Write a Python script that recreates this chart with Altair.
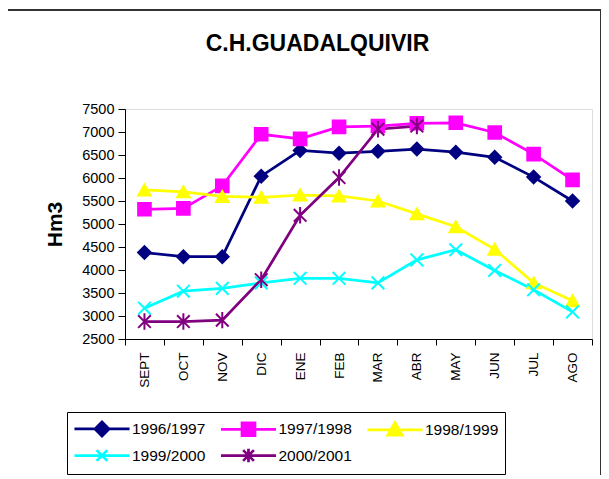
import altair as alt
import pandas as pd

months = ["SEPT", "OCT", "NOV", "DIC", "ENE", "FEB", "MAR", "ABR", "MAY", "JUN", "JUL", "AGO"]
series = ["1996/1997", "1997/1998", "1998/1999", "1999/2000", "2000/2001"]
v_9697 = [4380, 4290, 4290, 6040, 6600, 6540, 6580, 6630, 6560, 6450, 6020, 5500]
v_9798 = [5320, 5340, 5830, 6950, 6850, 7110, 7130, 7190, 7200, 6990, 6520, 5960]
v_9899 = [5740, 5700, 5600, 5580, 5630, 5610, 5500, 5220, 4940, 4450, 3720, 3330]
v_9900 = [3170, 3540, 3600, 3720, 3820, 3820, 3720, 4220, 4440, 3990, 3570, 3090]
v_0001 = [2880, 2880, 2910, 3790, 5190, 6010, 7060, 7130, None, None, None, None]
colors = ["#000080", "#FF00FF", "#FFFF00", "#00FFFF", "#800080"]
y_ticks = [2500, 3000, 3500, 4000, 4500, 5000, 5500, 6000, 6500, 7000, 7500]

plot_shapes = [
    "diamond",
    "square",
    "triangle-up",
    "M-1,-1L1,1M-1,1L1,-1",
    "M-1,-1L1,1M-1,1L1,-1M0,-1.3L0,1.3",
]
legend_shapes = [
    "M-3.06,0L3.06,0M-0.78,0L0,-0.78L0.78,0L0,0.78Z",
    "M-3.06,0L3.06,0M-0.72,-0.72L0.72,-0.72L0.72,0.72L-0.72,0.72Z",
    "M-3.06,0L3.06,0M0,-0.8L0.8,0.6L-0.8,0.6Z",
    "M-3.06,0L3.06,0M-0.6,-0.6L0.6,0.6M-0.6,0.6L0.6,-0.6",
    "M-3.06,0L3.06,0M-0.6,-0.6L0.6,0.6M-0.6,0.6L0.6,-0.6M0,-0.75L0,0.75",
]

rows = []
for s, vals in zip(series, [v_9697, v_9798, v_9899, v_9900, v_0001]):
    for m, v in zip(months, vals):
        rows.append({"mes": m, "serie": s, "valor": v})
df = pd.DataFrame(rows)

W, H = 467, 230
FONT = "Liberation Sans"

x_enc = alt.X(
    "mes:N",
    sort=months,
    scale=alt.Scale(type="band", paddingInner=0, paddingOuter=0),
    axis=alt.Axis(
        title=None, labelAngle=270, tickBand="extent", tickSize=6, labelPadding=7,
        labelFontSize=13.5, labelFont=FONT, labelColor="black",
        domainColor="black", tickColor="black", labelAlign="right", labelBaseline="middle",
    ),
)
y_enc = alt.Y(
    "valor:Q",
    scale=alt.Scale(domain=[2500, 7500], nice=False, zero=False),
    axis=alt.Axis(
        values=y_ticks, format="d", title="Hm3", titleFontSize=21, titleFont=FONT,
        titleFontWeight="bold", titleColor="black", titlePadding=16, grid=False, tickSize=7,
        labelPadding=4, labelFontSize=14.5, labelFont=FONT, labelColor="black",
        domainColor="black", tickColor="black",
    ),
)
color_scale = alt.Scale(domain=series, range=colors)

lines = alt.Chart(df).mark_line(strokeWidth=2.75).encode(
    x=x_enc, y=y_enc,
    color=alt.Color("serie:N", scale=color_scale, legend=None),
)
points = alt.Chart(df).mark_point(filled=False, size=160, strokeWidth=2, opacity=1).encode(
    x=x_enc, y=y_enc,
    color=alt.Color("serie:N", scale=color_scale, legend=None),
    fill=alt.Fill("serie:N", scale=color_scale, legend=None),
    shape=alt.Shape("serie:N", scale=alt.Scale(domain=series, range=plot_shapes), legend=None),
)

leg = alt.Legend(
    title=None, orient="none", legendX=-58, legendY=303, columns=3, direction="horizontal",
    strokeColor="black", fillColor="white", padding=6, cornerRadius=0,
    symbolSize=324, symbolStrokeWidth=2.75, symbolOffset=18.5, labelOffset=19.5,
    columnPadding=8.5, rowPadding=1, labelFontSize=15.5, labelFont=FONT, labelColor="black",
    symbolLimit=0,
)
legend_layer = alt.Chart(df).transform_filter("false").mark_point(
    filled=False, opacity=1, strokeWidth=2.75
).encode(
    x=x_enc, y=y_enc,
    color=alt.Color("serie:N", scale=color_scale, legend=leg),
    fill=alt.Fill("serie:N", scale=color_scale, legend=leg),
    shape=alt.Shape("serie:N", scale=alt.Scale(domain=series, range=legend_shapes), legend=leg),
)

frame = alt.Chart(pd.DataFrame({"k": [0]})).mark_rect(
    fill="transparent", stroke="#333333", strokeWidth=2
).encode(
    x=alt.value(-118), x2=alt.value(476), y=alt.value(-99), y2=alt.value(420)
)

chart = alt.layer(frame, lines, points, legend_layer).resolve_scale(
    shape="independent", color="independent", fill="independent"
).properties(
    width=W, height=H,
    title=alt.TitleParams(
        "C.H.GUADALQUIVIR", fontSize=23, font=FONT, fontWeight="bold", color="black",
        anchor="middle", frame="group", dx=-41, offset=-47,
    ),
    autosize=alt.AutoSizeParams(type="none"),
    padding={"left": 117, "top": 101, "right": 9, "bottom": 136},
).configure_view(
    fill="#C0C0C0", stroke="#808080", strokeWidth=2
).configure(background="white")

chart.save("out.html", embed_options={"renderer": "svg", "actions": False})
